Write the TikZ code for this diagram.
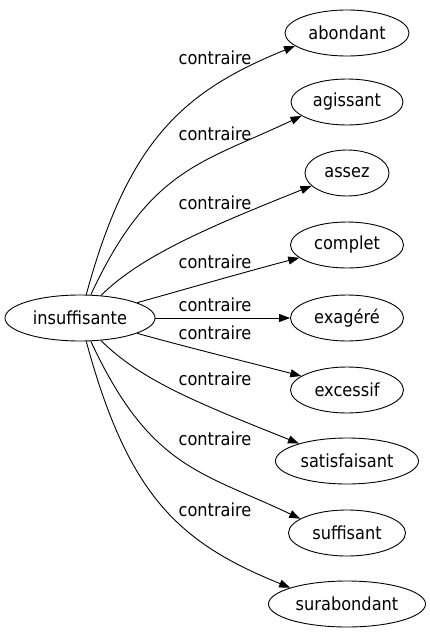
\documentclass[tikz,border=0pt]{standalone}
\usepackage{fontspec}
\setmainfont{DejaVu Sans}[FakeStretch=0.9]
\usetikzlibrary{arrows.meta,shapes.geometric}
\begin{document}
\begin{tikzpicture}[x=1pt,y=-1pt,
  word/.style={draw,ellipse,line width=0.9pt,minimum height=46pt,inner sep=0pt,font=\fontsize{18}{20}\selectfont},
  lab/.style={inner sep=0pt,font=\fontsize{18}{20}\selectfont},
  rel/.style={line width=0.9pt,-{Triangle[length=11pt,width=8pt]}}]
\useasboundingbox (0,0) rectangle (430,635);
\node[word,minimum width=150pt] (ins) at (80,318) {insuffisante};
\node[word,minimum width=124pt] (a1) at (347,33) {abondant};
\node[word,minimum width=112pt] (a2) at (347,102) {agissant};
\node[word,minimum width=84pt] (a3) at (347,173) {assez};
\node[word,minimum width=113pt] (a4) at (347,245) {complet};
\node[word,minimum width=113pt] (a5) at (347,318) {exagéré};
\node[word,minimum width=113pt] (a6) at (347,390) {excessif};
\node[word,minimum width=143pt] (a7) at (347,461) {satisfaisant};
\node[word,minimum width=117pt] (a8) at (347,533) {suffisant};
\node[word,minimum width=157pt] (a9) at (347,604) {surabondant};
\node[lab] (l1) at (215,58) {contraire};
\node[lab] (l2) at (215,134) {contraire};
\node[lab] (l3) at (215,203) {contraire};
\node[lab] (l4) at (215,262) {contraire};
\node[lab] (l5) at (215,305) {contraire};
\node[lab] (l6) at (215,333) {contraire};
\node[lab] (l7) at (215,379) {contraire};
\node[lab] (l8) at (215,439) {contraire};
\node[lab] (l9) at (215,510) {contraire};
\draw[rel] (ins.75) .. controls +(42,-155) and +(-111,45) .. (a1.194);
\draw[rel] (ins.65) .. controls +(59,-127) and +(-99,47) .. (a2.197);
\draw[rel] (ins.47) .. controls +(40,-40) and +(-100,40) .. (a3.200);
\draw[rel] (ins.15) .. controls +(50,-14) and +(-50,13) .. (a4.195);
\draw[rel] (ins) -- (a5);
\draw[rel] (ins.-15) .. controls +(50,14) and +(-50,-13) .. (a6.163);
\draw[rel] (ins.-47) .. controls +(40,40) and +(-100,-40) .. (a7.160);
\draw[rel] (ins.-65) .. controls +(59,127) and +(-99,-47) .. (a8.163);
\draw[rel] (ins.-75) .. controls +(42,155) and +(-111,-45) .. (a9.164);
\end{tikzpicture}
\end{document}
